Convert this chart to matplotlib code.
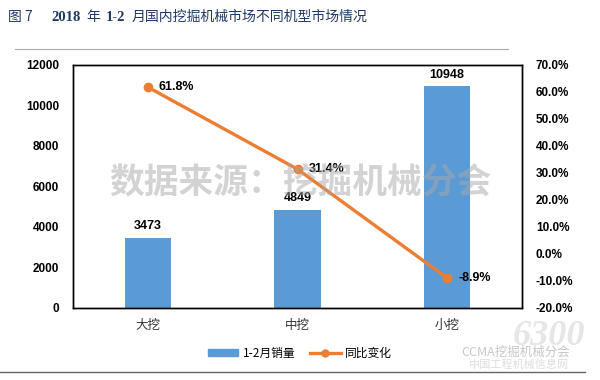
import matplotlib
matplotlib.use("Agg")
import matplotlib.pyplot as plt
from matplotlib.lines import Line2D
from matplotlib.patches import Patch
from matplotlib.ticker import FuncFormatter

plt.rcParams['font.family'] = ['Liberation Sans', 'Noto Sans CJK SC']

# data
categories = ['大挖', '中挖', '小挖']
sales = [3473, 4849, 10948]          # 1-2月销量
yoy = [61.8, 31.4, -8.9]             # 同比变化, %
left_ticks = [0, 2000, 4000, 6000, 8000, 10000, 12000]
right_ticks = [-20, -10, 0, 10, 20, 30, 40, 50, 60, 70]

bar_color = '#5B9BD5'
line_color = '#ED7D31'
cjk = ['Noto Sans CJK SC', 'DejaVu Sans']

fig = plt.figure(figsize=(6, 3.8), dpi=100)
ax = fig.add_axes([0.1217, 0.1895, 0.7483, 0.6395])
ax2 = ax.twinx()

x = list(range(len(categories)))
bars = ax.bar(x, sales, width=0.31, color=bar_color, zorder=2)
for xi, v in zip(x, sales):
    ax.annotate(str(v), (xi, v), xytext=(0, 4), textcoords='offset points',
                ha='center', va='bottom', fontsize=9, fontweight='bold')

ax.set_xlim(-0.5, 2.5)
ax.set_ylim(0, 12000)
ax.set_yticks(left_ticks)
ax.set_xticks(x)
ax.set_xticklabels(categories, fontsize=9, family=cjk, color='#333333')
ax.tick_params(axis='both', length=0)
ax.tick_params(axis='x', pad=8)
ax.tick_params(axis='y', pad=10)
for lab in ax.get_yticklabels():
    lab.set_fontsize(8.5)
    lab.set_fontweight('bold')

ax2.plot(x, yoy, color=line_color, lw=2.4, marker='o', ms=6, zorder=3)
for xi, v in zip(x, yoy):
    ax2.annotate(f'{v:.1f}%', (xi, v), xytext=(8, 0), textcoords='offset points',
                 ha='left', va='center', fontsize=9, fontweight='bold')
ax2.set_ylim(-20, 70)
ax2.set_yticks(right_ticks)
ax2.yaxis.set_major_formatter(FuncFormatter(lambda v, p: f'{v:.1f}%'))
ax2.tick_params(axis='y', length=0, pad=10)
for lab in ax2.get_yticklabels():
    lab.set_fontsize(8.5)
    lab.set_fontweight('bold')

for a in (ax, ax2):
    for s in a.spines.values():
        s.set_linewidth(1.0)
        s.set_color('black')

# watermark
fig.text(0.5, 0.518, '数据来源：挖掘机械分会', family=cjk, fontsize=25,
         fontweight='bold', color='#a8a8a8', alpha=0.5, ha='center', va='center', zorder=10)

# legend
handles = [Patch(color=bar_color),
           Line2D([], [], color=line_color, lw=2.4, marker='o', ms=5)]
fig.legend(handles, ['1-2月销量', '同比变化'], loc='center', bbox_to_anchor=(0.5, 0.071),
           ncol=2, frameon=False, handlelength=2.6, handleheight=0.5,
           columnspacing=1.2, handletextpad=0.4, prop={'family': cjk, 'size': 8.5})

# title pieces
navy = '#1F3864'
t = fig.text(0.013, 0.955, '图 7', family=cjk, fontsize=10, color=navy, va='center')
pieces = [('2018', 'bold', ['Liberation Serif']), ('年', 'normal', cjk),
          ('1-2', 'bold', ['Liberation Serif']),
          ('月国内挖掘机械市场不同机型市场情况', 'normal', cjk)]
gaps = [14, 4, 4, 4]
for (txt, w, fam), g in zip(pieces, gaps):
    t = plt.annotate(txt, xy=(1, 0.5), xycoords=t, xytext=(g, 0), textcoords='offset points',
                     fontsize=10.5 if fam[0] == 'Liberation Serif' else 10, fontweight=w,
                     family=fam, color=navy, va='center', annotation_clip=False)

fig.add_artist(Line2D([0.025, 0.847], [0.871, 0.871], color='#aaaaaa', lw=0.8))
fig.add_artist(Line2D([0.0, 0.975], [0.021, 0.021], color='#666666', lw=1.0))

# site marks at bottom right
fig.text(0.915, 0.115, '6300', fontsize=26, style='italic', family=['Liberation Serif'],
         color='#e6e6e6', ha='center', va='center', fontweight='bold')
fig.text(0.86, 0.072, 'CCMA挖掘机械分会', family=cjk, fontsize=9, color='#c8c8c8',
         ha='center', va='center')
fig.text(0.865, 0.04, '中国工程机械信息网', family=cjk, fontsize=8, color='#dddddd',
         ha='center', va='center')

fig.savefig('out.png', dpi=100)
